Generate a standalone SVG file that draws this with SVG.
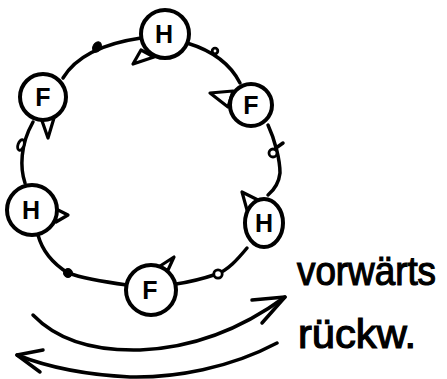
<svg xmlns="http://www.w3.org/2000/svg" width="447" height="379" viewBox="0 0 447 379">
<style>
.ln{fill:none;stroke:#000;stroke-width:3.5;stroke-linecap:round;stroke-linejoin:round}
.nd{fill:#fff;stroke:#000;stroke-width:4}
.tri{fill:#fff;stroke:#000;stroke-width:3.2;stroke-linejoin:round}
.lbl{font-family:"Liberation Sans",Arial,sans-serif;font-size:25px;font-weight:bold;text-anchor:middle;fill:#000}
.hw{font-family:"Liberation Sans",Arial,sans-serif;font-size:40px;fill:#000;stroke:#000;stroke-width:1.2}
.dot{fill:#000;stroke:#000;stroke-width:1}
.ring{fill:#fff;stroke:#000;stroke-width:2.8}
</style>
<rect width="447" height="379" fill="#fff"/>
<g id="connectors">
<path class="ln" d="M63,78 C75,58 100,44 141,38"/>
<path class="ln" d="M187,43 C210,50 230,63 240,83"/>
<path class="ln" d="M268,125 C275,140 280,160 280,173 C279,182 274,190 268,195"/>
<path class="ln" d="M247,248 C237,260 228,270 217,274 C205,278 190,282 176,284"/>
<path class="ln" d="M127,285 C105,282 85,279 68,273 C52,263 42,250 38,235"/>
<path class="ln" d="M25,183 C20,168 20,145 33,122"/>
<ellipse class="dot" cx="97" cy="47" rx="4" ry="5.5" transform="rotate(30 97 47)"/>
<circle class="ring" cx="215" cy="51" r="2.8"/>
<circle class="ring" cx="273" cy="153" r="4"/>
<path class="ln" d="M276,148 L283,143"/>
<ellipse class="ring" cx="21" cy="145" rx="3" ry="5.5" transform="rotate(20 21 145)"/>
<circle class="dot" cx="68" cy="273" r="4.5"/>
<circle class="ring" cx="218" cy="274" r="4.2"/>
<path class="ln" d="M33,315 C60,343 100,351 140,350 C190,348 240,330 285,297"/>
<polyline class="ln" points="252,300 285,297 262,323"/>
<path class="ln" d="M277,343 C230,368 175,378 130,377 C90,375 50,368 17,355"/>
<polyline class="ln" points="43,350 17,355 40,372"/>
</g>
<g id="node-h-top">
<polygon class="tri" points="133,64 141,50 154,57"/>
<circle class="nd" cx="165" cy="34" r="24"/>
<text class="lbl" x="164" y="43">H</text>
</g>
<g id="node-f-right">
<polygon class="tri" points="210,93 233,91 228,107"/>
<circle class="nd" cx="251" cy="105" r="21"/>
<text class="lbl" x="251" y="114">F</text>
</g>
<g id="node-h-right">
<polygon class="tri" points="242,192 247,210 258,200"/>
<ellipse class="nd" cx="264" cy="223" rx="19" ry="24"/>
<text class="lbl" x="264" y="232">H</text>
</g>
<g id="node-f-bottom">
<polygon class="tri" points="157,268 174,257 168,270"/>
<circle class="nd" cx="151" cy="290" r="25"/>
<text class="lbl" x="150" y="299">F</text>
</g>
<g id="node-h-left">
<polygon class="tri" points="54,208 68,215 56,222"/>
<circle class="nd" cx="32" cy="210" r="25"/>
<text class="lbl" x="31" y="219">H</text>
</g>
<g id="node-f-left">
<polygon class="tri" points="41,118 48,138 54,118"/>
<circle class="nd" cx="43" cy="97" r="23"/>
<text class="lbl" x="43" y="106">F</text>
</g>
<g id="labels">
<text class="hw" x="297" y="285" textLength="139" lengthAdjust="spacingAndGlyphs">vorwärts</text>
<text class="hw" x="298" y="348" font-size="44" textLength="118" lengthAdjust="spacingAndGlyphs">rückw.</text>
</g>
</svg>
